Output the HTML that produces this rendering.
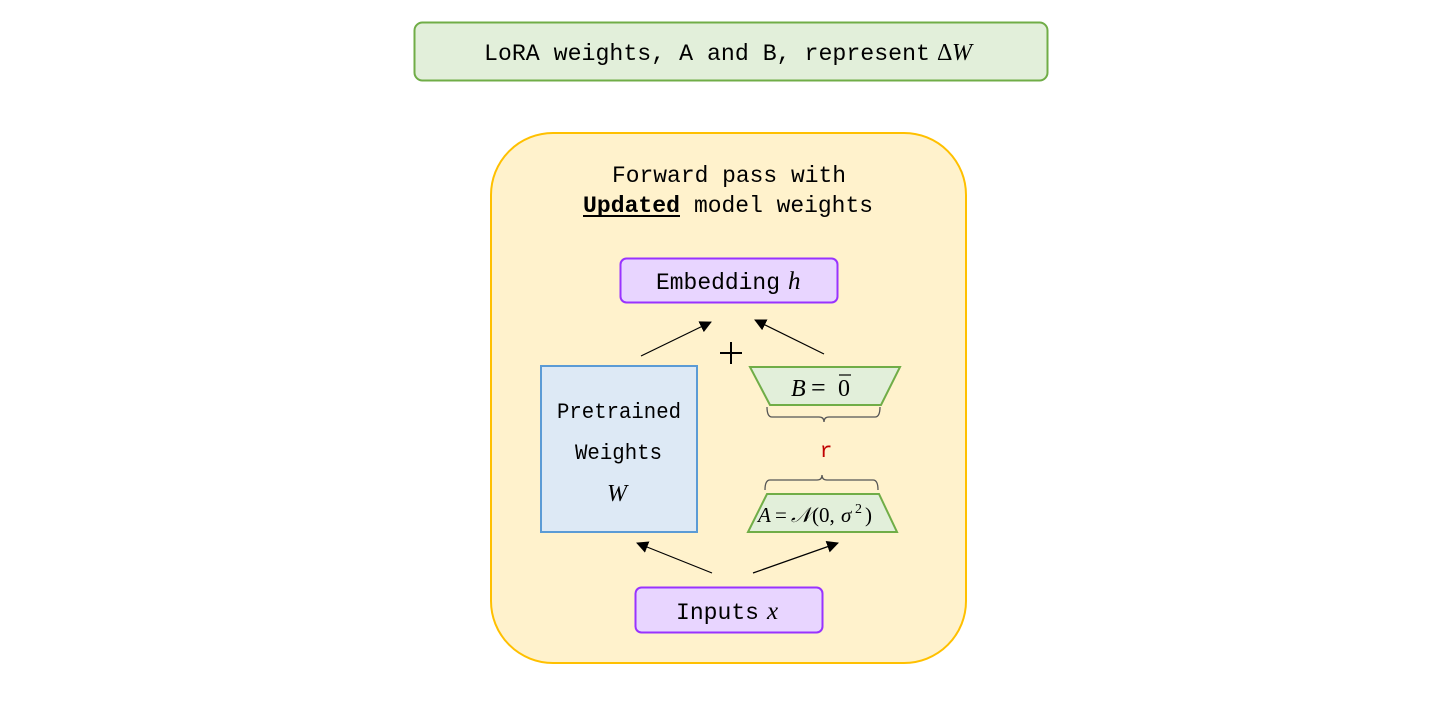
<!DOCTYPE html>
<html><head><meta charset="utf-8"><style>
html,body{margin:0;padding:0;background:#fff;}
svg{display:block;}
.m{font-family:"Liberation Mono",monospace;fill:#000;}
.s{font-family:"Liberation Serif",serif;font-style:italic;fill:#000;}
.r{font-family:"Liberation Serif",serif;fill:#000;}
</style></head><body>
<svg width="1442" height="706" viewBox="0 0 1442 706" xmlns="http://www.w3.org/2000/svg">
<defs><marker id="ah" markerWidth="12" markerHeight="12" refX="11" refY="6" orient="auto" markerUnits="userSpaceOnUse"><path d="M0,0 L12,6 L0,12 z" fill="#000"/></marker></defs>
<rect x="414.5" y="22.5" width="633" height="58" rx="8" fill="#e2efda" stroke="#70ad47" stroke-width="2"/>
<text class="m" x="484" y="60" font-size="23" textLength="446" lengthAdjust="spacingAndGlyphs">LoRA weights, A and B, represent</text>
<text x="937" y="60" font-size="24" class="r">Δ</text><text class="s" x="952" y="60" font-size="24">W</text>

<rect x="491" y="133" width="475" height="530" rx="62" fill="#fff2cc" stroke="#ffc000" stroke-width="2"/>
<text class="m" x="612" y="182" font-size="23" textLength="234" lengthAdjust="spacingAndGlyphs">Forward pass with</text>
<text class="m" x="583" y="212" font-size="23" font-weight="bold" textLength="97" lengthAdjust="spacingAndGlyphs">Updated</text>
<line x1="583" y1="216" x2="680" y2="216" stroke="#000" stroke-width="2"/>
<text class="m" x="694" y="212" font-size="23" textLength="179" lengthAdjust="spacingAndGlyphs">model weights</text>

<rect x="620.5" y="258.5" width="217" height="44" rx="6" fill="#e8d5ff" stroke="#9933ff" stroke-width="2"/>
<text class="m" x="656" y="289" font-size="23" textLength="124" lengthAdjust="spacingAndGlyphs">Embedding</text>
<text class="s" x="788" y="289" font-size="25">h</text>

<line x1="641" y1="356" x2="711" y2="322" stroke="#000" stroke-width="1.2" marker-end="url(#ah)"/>
<line x1="824" y1="354" x2="755" y2="320" stroke="#000" stroke-width="1.2" marker-end="url(#ah)"/>
<line x1="720" y1="353" x2="742" y2="353" stroke="#000" stroke-width="2"/>
<line x1="731" y1="342" x2="731" y2="364" stroke="#000" stroke-width="2"/>

<rect x="541" y="366" width="156" height="166" fill="#dde9f5" stroke="#5b9bd5" stroke-width="2"/>
<text class="m" x="557" y="418" font-size="22" textLength="124" lengthAdjust="spacingAndGlyphs">Pretrained</text>
<text class="m" x="575" y="459" font-size="22" textLength="87" lengthAdjust="spacingAndGlyphs">Weights</text>
<text class="s" x="607" y="501" font-size="24">W</text>

<polygon points="750,367 900,367 881,405 770,405" fill="#e2efda" stroke="#70ad47" stroke-width="2"/>
<text class="s" x="791" y="396" font-size="24">B</text>
<text x="811" y="396" font-size="26" class="r">=</text>
<text x="838" y="396" font-size="24" class="r">0</text>
<line x1="839" y1="375" x2="851" y2="375" stroke="#000" stroke-width="1.2"/>

<path d="M767,407 Q767,417 772,417 L819,417 Q824,417 824,422 Q824,417 829,417 L875,417 Q880,417 880,407" fill="none" stroke="#555" stroke-width="1.3"/>
<text x="826" y="457" font-size="21" text-anchor="middle" font-family="Liberation Mono,monospace" fill="#c00000">r</text>
<path d="M765,490 Q765,480 770,480 L817,480 Q822,480 822,475 Q822,480 827,480 L873,480 Q878,480 878,490" fill="none" stroke="#555" stroke-width="1.3"/>

<polygon points="767,494 879,494 897,532 748,532" fill="#e2efda" stroke="#70ad47" stroke-width="2"/>
<text class="s" x="758" y="522" font-size="21">A</text>
<text x="775" y="522" font-size="21" class="r">=</text>
<text class="s" x="791" y="522" font-size="21">𝒩</text>
<text x="812" y="522" font-size="21" class="r">(0,</text>
<text class="s" x="841" y="522" font-size="21">σ</text>
<text x="855" y="513" font-size="14" class="r">2</text>
<text x="865" y="522" font-size="21" class="r">)</text>

<line x1="712" y1="573" x2="637" y2="543" stroke="#000" stroke-width="1.2" marker-end="url(#ah)"/>
<line x1="753" y1="573" x2="838" y2="543" stroke="#000" stroke-width="1.2" marker-end="url(#ah)"/>

<rect x="635.5" y="587.5" width="187" height="45" rx="6" fill="#e8d5ff" stroke="#9933ff" stroke-width="2"/>
<text class="m" x="676" y="619" font-size="23" textLength="83" lengthAdjust="spacingAndGlyphs">Inputs</text>
<text class="s" x="767" y="619" font-size="25">x</text>
</svg>
</body></html>
